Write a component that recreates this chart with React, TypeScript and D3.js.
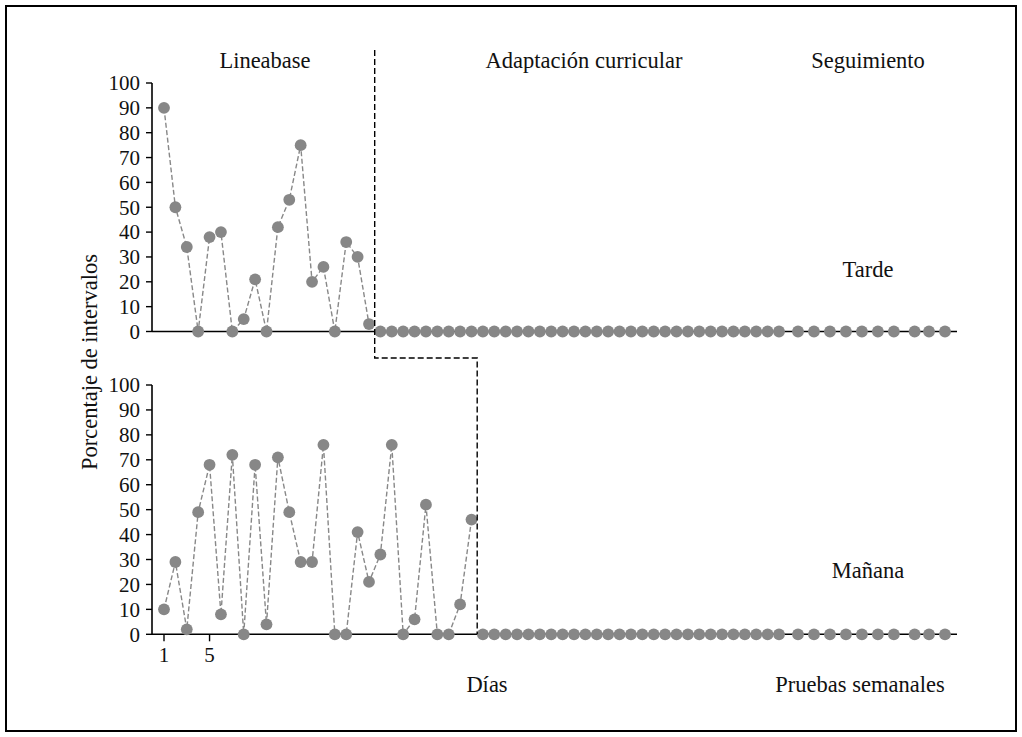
import React from "react";
import * as d3 from "d3";

// ---- data ----
const yTicks = [0, 10, 20, 30, 40, 50, 60, 70, 80, 90, 100];
const xTickDays = [1, 5];

// Tarde (afternoon) – baseline days 1..19
const tardeBaseline = [90, 50, 34, 0, 38, 40, 0, 5, 21, 0, 42, 53, 75, 20, 26, 0, 36, 30, 3];
// Tarde – intervention days 20..55
const tardeIntervention = [
  0, 0, 0, 0, 0, 0, 0, 0, 0, 0, 0, 0, 0, 0, 0, 0, 0, 0,
  0, 0, 0, 0, 0, 0, 0, 0, 0, 0, 0, 0, 0, 0, 0, 0, 0, 0,
];
// Mañana (morning) – baseline days 1..28
const mananaBaseline = [
  10, 29, 2, 49, 68, 8, 72, 0, 68, 4, 71, 49, 29, 29, 76, 0, 0, 41, 21, 32, 76, 0, 6, 52, 0, 0, 12, 46,
];
// Mañana – intervention days 29..55
const mananaIntervention = [
  0, 0, 0, 0, 0, 0, 0, 0, 0, 0, 0, 0, 0, 0, 0, 0, 0, 0, 0, 0, 0, 0, 0, 0, 0, 0, 0,
];
// Follow-up weekly probes
const followWeeks = [1, 2, 3, 4, 5, 6, 7, 8.3, 9.2, 10.2];
const tardeFollow = [0, 0, 0, 0, 0, 0, 0, 0, 0, 0];
const mananaFollow = [0, 0, 0, 0, 0, 0, 0, 0, 0, 0];

const phaseChangeTarde = 19.5;
const phaseChangeManana = 28.5;

const FONT = "Liberation Serif";
const FS_TICK = 21;
const FS = 22.5;
const DOT = "#878787";

export default function App() {
  const W = 1022;
  const H = 737;
  const xDay = d3.scaleLinear().domain([1, 55]).range([164, 779]);
  const xWeek = d3.scaleLinear().domain([1, 10.2]).range([798, 945]);
  const axisX0 = 152;
  const axisX1 = 957;
  const yTop = d3.scaleLinear().domain([0, 100]).range([331.5, 83]);
  const yBot = d3.scaleLinear().domain([0, 100]).range([634.3, 385]);

  const line = d3
    .line<[number, number]>()
    .x((d) => d[0])
    .y((d) => d[1]);

  const panel = (
    y: d3.ScaleLinear<number, number>,
    baseline: number[],
    intervention: number[],
    follow: number[],
    key: string
  ) => {
    const base: [number, number][] = baseline.map((v, i) => [xDay(i + 1), y(v)]);
    const inter: [number, number][] = intervention.map((v, i) => [
      xDay(baseline.length + i + 1),
      y(v),
    ]);
    const fol: [number, number][] = follow.map((v, i) => [xWeek(followWeeks[i]), y(v)]);
    return (
      <g key={key}>
        <line x1={axisX0} x2={axisX0} y1={y(0)} y2={y(100)} stroke="#000" strokeWidth={1.6} />
        {yTicks.map((t) => (
          <g key={t}>
            <line x1={axisX0 - 6} x2={axisX0} y1={y(t)} y2={y(t)} stroke="#000" strokeWidth={1.4} />
            <text
              x={140}
              y={y(t)}
              dy="0.35em"
              textAnchor="end"
              fontFamily={FONT}
              fontSize={FS_TICK}
              fill="#111"
            >
              {t}
            </text>
          </g>
        ))}
        <line x1={axisX0} x2={axisX1} y1={y(0)} y2={y(0)} stroke="#000" strokeWidth={1.6} />
        <path d={line(base) || ""} fill="none" stroke="#888" strokeWidth={1.4} strokeDasharray="5,2.5" />
        <path d={line(inter) || ""} fill="none" stroke="#888" strokeWidth={1.4} strokeDasharray="5,2.5" />
        {[...base, ...inter, ...fol].map((p, i) => (
          <circle key={i} cx={p[0]} cy={p[1]} r={5.9} fill={DOT} />
        ))}
      </g>
    );
  };

  const xc = xDay(phaseChangeTarde);
  const xm = xDay(phaseChangeManana);
  const midY = 358;

  const txt = (s: string, x: number, y: number, anchor: string = "middle") => (
    <text x={x} y={y} textAnchor={anchor} fontFamily={FONT} fontSize={FS} fill="#111">
      {s}
    </text>
  );

  return (
    <svg
      width={W}
      height={H}
      style={{ position: "absolute", left: 0, top: 0, background: "#fff" }}
    >
      <rect x={6} y={6} width={1010} height={725} fill="#fff" stroke="#000" strokeWidth={2} />
      {panel(yTop, tardeBaseline, tardeIntervention, tardeFollow, "top")}
      {panel(yBot, mananaBaseline, mananaIntervention, mananaFollow, "bot")}
      {xTickDays.map((d) => (
        <g key={d}>
          <line x1={xDay(d)} x2={xDay(d)} y1={yBot(0)} y2={yBot(0) + 7} stroke="#000" strokeWidth={1.4} />
          <text x={xDay(d)} y={662} textAnchor="middle" fontFamily={FONT} fontSize={FS_TICK} fill="#111">
            {d}
          </text>
        </g>
      ))}
      <path
        d={`M${xc},50 L${xc},${midY} L${xm},${midY} L${xm},${yBot(0)}`}
        fill="none"
        stroke="#000"
        strokeWidth={1.4}
        strokeDasharray="6,3"
      />
      {txt("Lineabase", 265, 68)}
      {txt("Adaptación curricular", 584, 68)}
      {txt("Seguimiento", 868, 68)}
      {txt("Tarde", 868, 277)}
      {txt("Mañana", 868, 578)}
      {txt("Días", 487, 692)}
      {txt("Pruebas semanales", 860, 692)}
      <text
        transform={`translate(97,362) rotate(-90)`}
        textAnchor="middle"
        fontFamily={FONT}
        fontSize={FS}
        fill="#111"
      >
        Porcentaje de intervalos
      </text>
    </svg>
  );
}
